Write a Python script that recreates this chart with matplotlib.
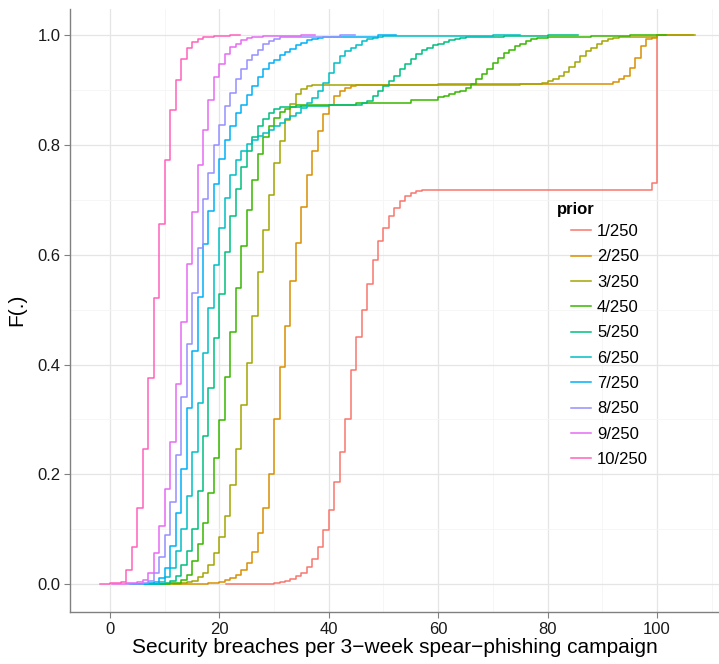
import numpy as np
import matplotlib
matplotlib.use("Agg")
import matplotlib.pyplot as plt

plt.rcParams['font.family'] = ['Liberation Sans', 'DejaVu Sans']

# ecdf steps: breach counts and F(.) after each step
x_p1 = [27, 28, 29, 30, 31, 32, 33, 34, 35, 36, 37, 38, 39, 40, 41, 42, 43, 44, 45,
        46, 47, 48, 49, 50, 51, 52, 53, 54, 55, 56, 57, 99, 100]
F_p1 = [0.0003, 0.0006, 0.0008, 0.001, 0.0036, 0.0055, 0.0097, 0.0146, 0.0207, 0.0316,
        0.0456, 0.0681, 0.0985, 0.135, 0.185, 0.24, 0.30, 0.39, 0.45, 0.50, 0.547, 0.591,
        0.625, 0.649, 0.670, 0.686, 0.698, 0.707, 0.713, 0.716, 0.718, 0.731, 1.0]

x_p2 = [18, 19, 20, 21, 22, 23, 24, 25, 26, 27, 28, 29, 30, 31, 32, 33, 34, 35, 36, 37,
        38, 39, 40, 41, 42, 43, 44, 45, 46, 55, 75, 92, 93, 94, 95, 96, 97, 98, 99, 100]
F_p2 = [0.001, 0.002, 0.004, 0.0073, 0.011, 0.017, 0.0255, 0.0377, 0.059, 0.0925, 0.138,
        0.20, 0.30, 0.395, 0.471, 0.553, 0.622, 0.688, 0.745, 0.789, 0.825, 0.856, 0.874,
        0.889, 0.898, 0.904, 0.907, 0.909, 0.910, 0.910, 0.911, 0.915, 0.920, 0.926, 0.941,
        0.959, 0.981, 0.993, 0.996, 1.0]

x_p3 = [13, 14, 15, 16, 17, 18, 19, 20, 21, 22, 23, 24, 25, 26, 27, 28, 29, 30, 31, 32,
        33, 34, 35, 36, 37, 60, 79, 80, 81, 82, 83, 84, 85, 86, 87, 88, 89, 90, 91, 92,
        93, 100]
F_p3 = [0.001, 0.003, 0.006, 0.012, 0.0195, 0.035, 0.056, 0.086, 0.123, 0.181, 0.246,
        0.327, 0.403, 0.488, 0.569, 0.645, 0.710, 0.768, 0.807, 0.845, 0.875, 0.893, 0.902,
        0.908, 0.910, 0.912, 0.913, 0.917, 0.921, 0.926, 0.933, 0.942, 0.951, 0.962, 0.972,
        0.977, 0.984, 0.990, 0.994, 0.996, 0.998, 1.0]

x_p4 = [11, 12, 13, 14, 15, 16, 17, 18, 19, 20, 21, 22, 23, 24, 25, 26, 27, 28, 29, 30,
        31, 32, 33, 34, 45, 55, 60, 61, 62, 63, 64, 65, 66, 67, 68, 69, 70, 71, 72, 73,
        74, 75, 76, 77, 78, 79, 80, 88, 95]
F_p4 = [0.001, 0.0024, 0.0073, 0.0164, 0.0426, 0.073, 0.111, 0.165, 0.229, 0.299, 0.378,
        0.460, 0.540, 0.617, 0.682, 0.737, 0.783, 0.815, 0.835, 0.850, 0.860, 0.866, 0.870,
        0.874, 0.877, 0.883, 0.888, 0.890, 0.893, 0.896, 0.898, 0.904, 0.912, 0.920, 0.929,
        0.939, 0.950, 0.959, 0.968, 0.974, 0.981, 0.985, 0.989, 0.993, 0.995, 0.996, 0.997,
        0.999, 1.0]

x_p5 = [10, 11, 12, 13, 14, 15, 16, 17, 18, 19, 20, 21, 22, 23, 24, 25, 26, 27, 28, 29,
        30, 31, 35, 40, 46, 47, 48, 49, 50, 51, 52, 53, 54, 55, 56, 57, 58, 59, 60, 61,
        62, 63, 64, 65, 66, 72, 80]
F_p5 = [0.002, 0.006, 0.015, 0.034, 0.06, 0.10, 0.17, 0.27, 0.357, 0.448, 0.528, 0.605,
        0.67, 0.72, 0.76, 0.79, 0.815, 0.835, 0.848, 0.858, 0.865, 0.869, 0.872, 0.874,
        0.877, 0.880, 0.889, 0.898, 0.907, 0.917, 0.926, 0.938, 0.947, 0.957, 0.967, 0.973,
        0.977, 0.982, 0.985, 0.988, 0.991, 0.994, 0.996, 0.997, 0.998, 0.999, 1.0]

x_p6 = [9, 10, 11, 12, 13, 14, 15, 16, 17, 18, 19, 20, 21, 22, 23, 24, 25, 26, 27, 28,
        29, 30, 31, 32, 33, 34, 35, 36, 37, 38, 39, 40, 41, 42, 43, 44, 45, 46, 47, 48,
        49, 50, 60, 70]
F_p6 = [0.004, 0.012, 0.03, 0.06, 0.10, 0.16, 0.24, 0.33, 0.421, 0.504, 0.582, 0.649,
        0.704, 0.745, 0.772, 0.790, 0.802, 0.810, 0.816, 0.822, 0.828, 0.834, 0.840, 0.847,
        0.853, 0.859, 0.868, 0.877, 0.886, 0.898, 0.913, 0.932, 0.950, 0.962, 0.971, 0.977,
        0.983, 0.990, 0.993, 0.996, 0.998, 0.999, 0.9995, 1.0]

x_p7 = [7, 8, 9, 10, 11, 12, 13, 14, 15, 16, 17, 18, 19, 20, 21, 22, 23, 24, 25, 26, 27,
        28, 29, 30, 31, 32, 33, 34, 35, 36, 37, 38, 39, 49]
F_p7 = [0.001, 0.003, 0.01, 0.03, 0.07, 0.13, 0.21, 0.32, 0.425, 0.524, 0.619, 0.68, 0.73,
        0.774, 0.81, 0.834, 0.859, 0.874, 0.892, 0.907, 0.925, 0.939, 0.950, 0.956, 0.964,
        0.970, 0.976, 0.982, 0.987, 0.991, 0.994, 0.996, 0.998, 1.0]

x_p8 = [6, 7, 8, 9, 10, 11, 12, 13, 14, 15, 16, 17, 18, 19, 20, 21, 22, 23, 24, 25, 26,
        27, 28, 29, 30, 31, 32, 42]
F_p8 = [0.002, 0.006, 0.02, 0.05, 0.09, 0.15, 0.235, 0.340, 0.437, 0.530, 0.612, 0.702,
        0.749, 0.801, 0.837, 0.872, 0.895, 0.920, 0.938, 0.955, 0.965, 0.974, 0.984, 0.990,
        0.994, 0.997, 0.998, 1.0]

x_p9 = [3, 4, 5, 6, 7, 8, 9, 10, 11, 12, 13, 14, 15, 16, 17, 18, 19, 20, 21, 22, 23, 24,
        25, 26, 27, 28, 30, 35]
F_p9 = [0.001, 0.002, 0.004, 0.008, 0.02, 0.057, 0.106, 0.173, 0.259, 0.364, 0.478, 0.584,
        0.679, 0.763, 0.828, 0.883, 0.924, 0.947, 0.967, 0.978, 0.985, 0.991, 0.995, 0.997,
        0.998, 0.9985, 0.999, 1.0]

x_p10 = [0, 1, 2, 3, 4, 5, 6, 7, 8, 9, 10, 11, 12, 13, 14, 15, 16, 17, 18, 19, 20, 22]
F_p10 = [0.001, 0.002, 0.004, 0.025, 0.068, 0.138, 0.246, 0.376, 0.521, 0.656, 0.773,
         0.864, 0.918, 0.957, 0.977, 0.988, 0.994, 0.997, 0.998, 0.999, 0.9995, 1.0]

priors = ['1/250', '2/250', '3/250', '4/250', '5/250', '6/250', '7/250', '8/250', '9/250', '10/250']
xs = [x_p1, x_p2, x_p3, x_p4, x_p5, x_p6, x_p7, x_p8, x_p9, x_p10]
Fs = [F_p1, F_p2, F_p3, F_p4, F_p5, F_p6, F_p7, F_p8, F_p9, F_p10]
colors = ['#F8766D', '#D89000', '#A3A500', '#39B600', '#00BF7D',
          '#00BFC4', '#00B0F6', '#9590FF', '#E76BF3', '#FF62BC']

W, H = 719, 664
fig = plt.figure(figsize=(W / 100, H / 100), dpi=100)
ax = fig.add_axes([70 / W, 1 - 612 / H, 1 - 70 / W, (612 - 8.6) / H])

for x, F, lab, col in zip(xs, Fs, priors, colors):
    x = np.array(x, dtype=float)
    # padding like stat_ecdf: extend 8% of the range on both sides
    dr = max(0.08 * (x.max() - x.min()), np.median(np.diff(x)))
    xx = np.concatenate([[x.min() - dr], x, [x.max() + dr]])
    yy = np.concatenate([[0.0], F, [1.0]])
    ax.step(xx, yy, where='post', color=col, lw=1.1, label=lab)

ax.set_xlim(-7.31, 111.34)
ax.set_ylim(-0.0511, 1.0489)
ax.set_xticks([0, 20, 40, 60, 80, 100])
ax.set_xticks([10, 30, 50, 70, 90, 110], minor=True)
ax.set_yticks([0.0, 0.2, 0.4, 0.6, 0.8, 1.0])
ax.set_yticks([0.1, 0.3, 0.5, 0.7, 0.9], minor=True)
ax.set_yticklabels(['0.0', '0.2', '0.4', '0.6', '0.8', '1.0'])
ax.grid(which='major', color='#E5E5E5', lw=0.9)
ax.grid(which='minor', color='#F5F5F5', lw=0.6)
ax.set_axisbelow(True)

for s in ['top', 'right']:
    ax.spines[s].set_visible(False)
for s in ['left', 'bottom']:
    ax.spines[s].set_color('#808080')
    ax.spines[s].set_linewidth(1.0)
ax.tick_params(which='major', length=4, color='#808080', labelsize=12, labelcolor='#1a1a1a', pad=3)
ax.tick_params(which='minor', length=0)

ax.set_xlabel('Security breaches per 3\u2212week spear\u2212phishing campaign', fontsize=15, labelpad=1)
ax.set_ylabel('F(.)', fontsize=15, labelpad=8)

leg = ax.legend(loc='upper left', bbox_to_anchor=(571 / W, 1 - 224 / H),
                bbox_transform=fig.transFigure, frameon=False, fontsize=12,
                handlelength=1.2, labelspacing=0.62, borderpad=0, borderaxespad=0,
                handletextpad=0.36)
fig.text(557 / W, 1 - 214 / H, 'prior', fontsize=12, fontweight='bold', va='baseline', ha='left')

fig.savefig('out.png', dpi=100)
